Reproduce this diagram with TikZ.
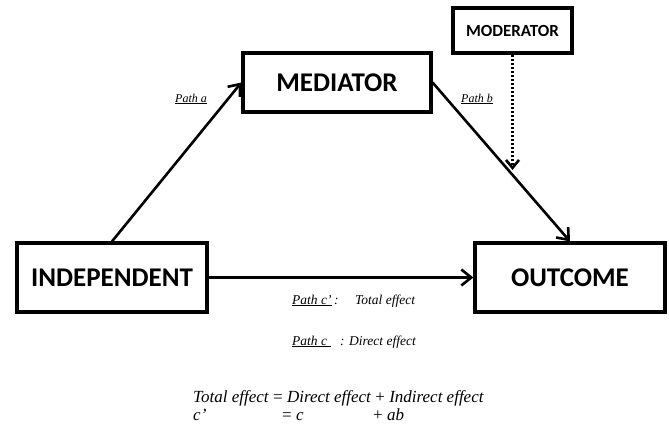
\documentclass[tikz,border=0pt]{standalone}
\usepackage{fontspec}
\setmainfont{Liberation Serif}
\newfontfamily\boxfont{Carlito}
\usetikzlibrary{arrows.meta}
\tikzset{
  varbox/.style={draw=black, line width=3.2pt, fill=white, inner sep=0pt,
    font=\boxfont\bfseries\fontsize{27}{30}\selectfont},
  modbox/.style={draw=black, line width=3.2pt, fill=white, inner sep=0pt,
    font=\boxfont\bfseries\fontsize{17}{20}\selectfont},
  conn/.style={line width=2.6pt, -{Straight Barb[length=10pt,width=16pt,line width=2.6pt]}},
  dotconn/.style={line width=2.6pt, dash pattern=on 2.4pt off 1.6pt, -{Straight Barb[length=8pt,width=13pt,line width=2.6pt]}},
  lbl/.style={inner sep=0pt, anchor=base west, font=\fontsize{12}{14}\selectfont\itshape},
  clbl/.style={inner sep=0pt, anchor=base west, font=\fontsize{13.5}{16}\selectfont\itshape},
  flbl/.style={inner sep=0pt, anchor=base west, font=\fontsize{17}{19}\selectfont}
}
\begin{document}
\begin{tikzpicture}[x=1pt,y=-1pt]
\useasboundingbox (0,0) rectangle (669,434);
\node[varbox, minimum width=188pt, minimum height=59pt] (med) at (337,82.5) {MEDIATOR};
\node[modbox, minimum width=119pt, minimum height=45pt] (mod) at (512.5,30.5) {MODERATOR};
\node[varbox, minimum width=190pt, minimum height=69pt] (ind) at (112,277.5) {INDEPENDENT};
\node[varbox, minimum width=190pt, minimum height=69pt] (out) at (570,277.5) {OUTCOME};
\coordinate (modend) at (512.5,170);
\draw[conn] (ind.north) -- (med.west);
\draw[conn] (med.east) -- (out.north);
\draw[conn] (ind.east) -- (out.west);
\draw[dotconn] (mod.south) -- (modend);
\node[lbl] (pa) at (175,102) {\underline{Path a}};
\node[lbl] (pb) at (461,102) {\underline{Path b}};
\node[clbl] (pc1) at (292,304) {\underline{Path c'}};
\node[clbl] (pc1c) at (334,304) {:};
\node[clbl] (pc1t) at (355,304) {Total effect};
\node[clbl] (pc2) at (292,345) {\underline{Path c\hspace{4pt}}};
\node[clbl] (pc2c) at (340,345) {:};
\node[clbl] (pc2t) at (349,345) {Direct effect};
\node[flbl] (f1) at (193,402) {\textit{Total effect} = \textit{Direct effect} + \textit{Indirect effect}};
\node[flbl] (f2a) at (193,420) {\textit{c'}};
\node[flbl] (f2b) at (282,420) {= \textit{c}};
\node[flbl] (f2c) at (373,420) {+ \textit{ab}};
\end{tikzpicture}
\end{document}
